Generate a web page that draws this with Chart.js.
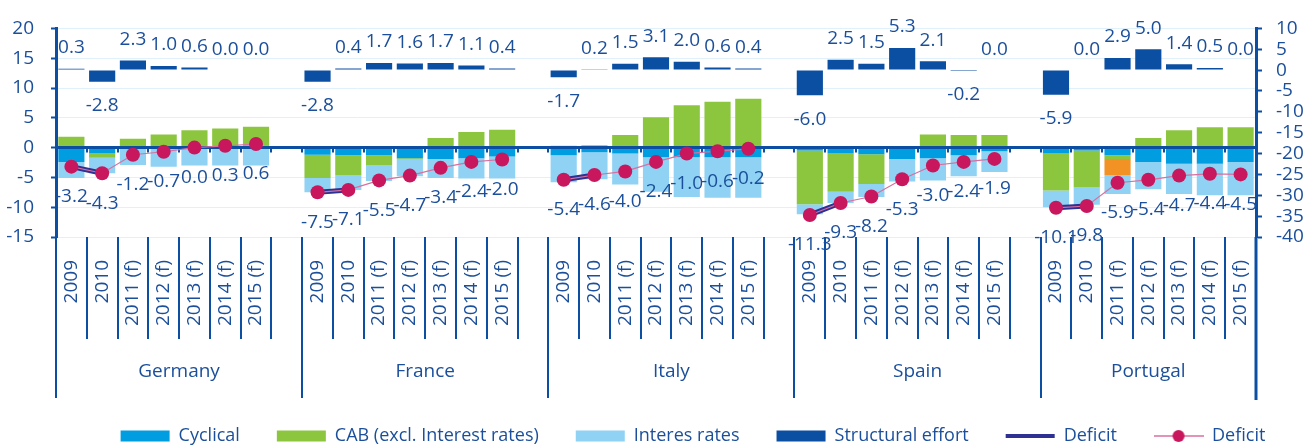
<!DOCTYPE html>
<html>
<head>
<meta charset="utf-8">
<title>Deficit breakdown</title>
<script src="https://cdn.jsdelivr.net/npm/chart.js@4.4.1/dist/chart.umd.min.js"></script>
<style>
  html, body { margin: 0; padding: 0; background: #fff; }
  #wrap { position: relative; width: 1310px; height: 445px; }
</style>
</head>
<body>
<div id="wrap"><canvas id="chart"></canvas></div>
<script>
/* =========================
   DATA
========================= */
const countries = ['Germany', 'France', 'Italy', 'Spain', 'Portugal'];
const years = ['2009', '2010', '2011 (f)', '2012 (f)', '2013 (f)', '2014 (f)', '2015 (f)'];
const leftTicks = [-15, -10, -5, 0, 5, 10, 15, 20];
const rightTicks = [-40, -35, -30, -25, -20, -15, -10, -5, 0, 5, 10];

// one row per country, 2009 .. 2015 (f)
const cyclical = [
  [-2.4, -0.9, 0.0, 0.0, 0.0, 0.0, 0.3],
  [-1.2, -1.3, -1.3, -1.8, -1.9, -1.8, -1.5],
  [-1.3, -0.8, -1.0, -1.6, -1.6, -1.6, -1.6],
  [-0.5, -1.0, -1.1, -1.9, -1.8, -1.3, -0.6],
  [-1.0, -0.5, -1.3, -2.4, -2.7, -2.7, -2.4]
];
const cab = [
  [1.8, -0.8, 1.5, 2.2, 2.9, 3.2, 3.2],
  [-3.9, -3.4, -1.6, -0.1, 1.6, 2.6, 3.0],
  [0.3, 0.4, 2.1, 5.1, 7.1, 7.7, 8.2],
  [-9.0, -6.4, -5.0, 0.0, 2.2, 2.1, 2.1],
  [-6.2, -6.2, -0.6, 1.6, 2.9, 3.4, 3.4]
];
const oneOffs = [
  [null, null, null, null, null, null, null],
  [null, null, null, null, null, null, null],
  [null, null, null, null, null, null, null],
  [null, null, null, null, null, null, null],
  [null, null, -2.7, null, null, null, null]
];
const interest = [
  [-2.7, -2.6, -2.9, -3.2, -3.0, -3.0, -3.0],
  [-2.4, -2.4, -2.7, -2.9, -3.2, -3.4, -3.7],
  [-4.5, -4.5, -5.2, -5.8, -6.7, -6.8, -6.8],
  [-1.7, -1.9, -2.2, -3.8, -3.7, -3.5, -3.5],
  [-2.8, -2.9, -3.2, -4.6, -5.1, -5.3, -5.6]
];
const structural = [
  [0.3, -2.8, 2.3, 1.0, 0.6, 0.0, 0.0],
  [-2.8, 0.4, 1.7, 1.6, 1.7, 1.1, 0.4],
  [-1.7, 0.2, 1.5, 3.1, 2.0, 0.6, 0.4],
  [-6.0, 2.5, 1.5, 5.3, 2.1, -0.2, 0.0],
  [-5.9, 0.0, 2.9, 5.0, 1.4, 0.5, 0.0]
];
const deficit = [
  [-3.2, -4.3, -1.2, -0.7, 0.0, 0.3, 0.6],
  [-7.5, -7.1, -5.5, -4.7, -3.4, -2.4, -2.0],
  [-5.4, -4.6, -4.0, -2.4, -1.0, -0.6, -0.2],
  [-11.3, -9.3, -8.2, -5.3, -3.0, -2.4, -1.9],
  [-10.1, -9.8, -5.9, -5.4, -4.7, -4.4, -4.5]
];

/* =========================
   COLOURS
========================= */
const C = {
  cyc: '#009ee0',
  cab: '#8cc63f',
  int: '#8fd2f4',
  str: '#0b4fa3',
  one: '#f39224',
  navy: '#2e3192',
  pink: '#d86f9f',
  dot: '#c8175d',
  text: '#1b4f9b',
  axis: '#0c4ea2',
  grid: '#e1f1fb'
};

// country rows -> one flat list of slots, with an empty slot between countries
function spread(rows) {
  const out = [];
  rows.forEach((row, g) => {
    row.forEach(v => out.push(v));
    if (g < rows.length - 1) out.push(null);
  });
  return out;
}

const slots = [];
countries.forEach((c, g) => {
  years.forEach(y => slots.push(y));
  if (g < countries.length - 1) slots.push('');
});

// thick deficit line only joins 2009 and 2010
const deficitEarly = deficit.map(row => row.map((v, i) => (i < 2 ? v : null)));

// legend marker: thin line with a dot
function dotLine() {
  const c = document.createElement('canvas');
  c.width = 50; c.height = 14;
  const g = c.getContext('2d');
  g.strokeStyle = C.pink; g.lineWidth = 1.5;
  g.beginPath(); g.moveTo(0, 7); g.lineTo(50, 7); g.stroke();
  g.fillStyle = C.dot;
  g.beginPath(); g.arc(25, 7, 6, 0, Math.PI * 2); g.fill();
  return c;
}
const dotMarker = dotLine();

/* =========================
   EXTRA DRAWING
========================= */
const FONT = '19px "Open Sans"';

const extras = {
  id: 'extras',
  afterLayout(chart) {
    // legend row sits a bit right of centre in the original
    const lg = chart.legend;
    if (!lg) return;
    const h = lg.height;
    lg.left = 76;
    lg.right = chart.width;
    lg.width = lg.right - lg.left;
    lg.top = 390;
    lg.bottom = lg.top + h;
  },
  afterDatasetDraw(chart, args) {
    if (args.index !== 5) return;
    const { ctx, chartArea: a, scales: { x, y } } = chart;
    const y0 = y.getPixelForValue(0);
    const slotW = x.getPixelForValue(1) - x.getPixelForValue(0);
    ctx.save();
    ctx.strokeStyle = C.axis;
    ctx.lineWidth = 3;
    ctx.beginPath(); ctx.moveTo(a.left, y0); ctx.lineTo(a.right, y0); ctx.stroke();
    ctx.lineWidth = 2;
    for (let k = 1; k < slots.length; k++) {
      const px = Math.round(x.getPixelForValue(0) - slotW / 2 + k * slotW);
      ctx.beginPath(); ctx.moveTo(px, y0); ctx.lineTo(px, y0 + 5); ctx.stroke();
    }
    ctx.restore();
  },
  afterDraw(chart) {
    const { ctx, chartArea: a, scales: { x, y, y2 } } = chart;
    const slotW = x.getPixelForValue(1) - x.getPixelForValue(0);
    const edge = k => x.getPixelForValue(0) - slotW / 2 + k * slotW;
    const vline = (px, y1, y2p, w) => {
      ctx.lineWidth = w;
      ctx.beginPath(); ctx.moveTo(Math.round(px), y1); ctx.lineTo(Math.round(px), y2p); ctx.stroke();
    };

    ctx.save();
    ctx.strokeStyle = C.axis;

    // year separators
    countries.forEach((c, g) => {
      for (let j = 1; j <= years.length; j++) {
        const k = g * (years.length + 1) + j;
        if (k >= slots.length) continue;
        vline(edge(k), a.bottom, a.bottom + 102, 2);
      }
    });
    // country separators
    for (let g = 1; g < countries.length; g++) {
      vline(edge(g * (years.length + 1)), a.bottom, a.bottom + 161, 2);
    }
    vline(a.left, a.bottom, a.bottom + 161, 2);
    vline(a.right, a.bottom, a.bottom + 163, 3);

    // year labels, vertical
    ctx.fillStyle = C.text;
    ctx.font = FONT;
    ctx.textAlign = 'right';
    ctx.textBaseline = 'middle';
    slots.forEach((lab, i) => {
      if (!lab) return;
      ctx.save();
      ctx.translate(x.getPixelForValue(i), a.bottom + 23);
      ctx.rotate(-Math.PI / 2);
      ctx.fillText(lab, 0, 0);
      ctx.restore();
    });

    // country labels
    ctx.textAlign = 'center';
    countries.forEach((c, g) => {
      const s = g * (years.length + 1);
      const e = s + years.length + (g < countries.length - 1 ? 1 : 0);
      ctx.fillText(c, (edge(s) + edge(e)) / 2, a.bottom + 135);
    });

    // value labels
    spread(structural).forEach((v, i) => {
      if (v === null) return;
      const py = y2.getPixelForValue(v);
      ctx.fillText(v.toFixed(1), x.getPixelForValue(i), v >= 0 ? py - 21 : py + 24);
    });
    spread(deficit).forEach((v, i) => {
      if (v === null) return;
      ctx.fillText(v.toFixed(1), x.getPixelForValue(i), y.getPixelForValue(v) + 30);
    });

    ctx.restore();
  }
};

/* =========================
   CHART
========================= */
Chart.defaults.font.family = '"Open Sans", sans-serif';
Chart.defaults.color = C.text;

const barBase = { borderWidth: 0, order: 3, yAxisID: 'y', barPercentage: 0.85, categoryPercentage: 1.0 };

new Chart(document.getElementById('chart'), {
  type: 'bar',
  data: {
    labels: slots,
    datasets: [
      { ...barBase, label: 'Cyclical', data: spread(cyclical), backgroundColor: C.cyc },
      { ...barBase, label: 'CAB (excl. Interest rates)', data: spread(cab), backgroundColor: C.cab },
      { ...barBase, label: 'One-offs', data: spread(oneOffs), backgroundColor: C.one },
      { ...barBase, label: 'Interes rates', data: spread(interest), backgroundColor: C.int },
      { ...barBase, label: 'Structural effort', data: spread(structural), backgroundColor: C.str, yAxisID: 'y2' },
      {
        type: 'line', label: 'Deficit', data: spread(deficitEarly), yAxisID: 'y', stack: 'defA', order: 2,
        borderColor: C.navy, borderWidth: 5, pointRadius: 0, spanGaps: false, fill: false
      },
      {
        type: 'line', label: 'Deficit', data: spread(deficit), yAxisID: 'y', stack: 'defB', order: 1,
        borderColor: C.pink, borderWidth: 1.2, pointRadius: 7, pointBackgroundColor: C.dot,
        pointBorderWidth: 0, spanGaps: false, fill: false
      }
    ]
  },
  options: {
    responsive: true,
    maintainAspectRatio: false,
    animation: false,
    events: [],
    layout: { padding: { top: 20, left: 0, right: 0, bottom: 0 } },
    scales: {
      x: {
        type: 'category',
        offset: true,
        stacked: true,
        grid: { display: false },
        border: { display: false },
        ticks: { display: false },
        afterFit: s => { s.height = 143; }
      },
      y: {
        position: 'left',
        stacked: true,
        min: leftTicks[0],
        max: leftTicks[leftTicks.length - 1],
        afterBuildTicks: s => { s.ticks = leftTicks.map(v => ({ value: v })); },
        ticks: { color: C.text, font: { size: 19 }, padding: 17, autoSkip: false },
        grid: {
          color: c => (c.tick && c.tick.value === 0 ? 'rgba(0,0,0,0)' : C.grid),
          lineWidth: 1,
          tickColor: C.axis,
          tickLength: 5,
          tickWidth: 2
        },
        border: { color: C.axis, width: 3 },
        afterFit: s => { s.width = 56; }
      },
      y2: {
        position: 'right',
        stacked: false,
        min: rightTicks[0],
        max: rightTicks[rightTicks.length - 1],
        afterBuildTicks: s => { s.ticks = rightTicks.map(v => ({ value: v })); },
        ticks: { color: C.text, font: { size: 19 }, padding: 14, autoSkip: false },
        grid: { drawOnChartArea: false, tickColor: C.axis, tickLength: 6, tickWidth: 2 },
        border: { color: C.axis, width: 3 },
        afterFit: s => { s.width = 54; }
      }
    },
    plugins: {
      tooltip: { enabled: false },
      legend: {
        position: 'bottom',
        labels: {
          usePointStyle: true,
          pointStyleWidth: 49,
          boxHeight: 11,
          padding: 37,
          color: C.text,
          font: { size: 18 },
          generateLabels: () => [
            { text: 'Cyclical', fillStyle: C.cyc, strokeStyle: C.cyc, lineWidth: 0, pointStyle: 'rect', fontColor: C.text, hidden: false },
            { text: 'CAB (excl. Interest rates)', fillStyle: C.cab, strokeStyle: C.cab, lineWidth: 0, pointStyle: 'rect', fontColor: C.text, hidden: false },
            { text: 'Interes rates', fillStyle: C.int, strokeStyle: C.int, lineWidth: 0, pointStyle: 'rect', fontColor: C.text, hidden: false },
            { text: 'Structural effort', fillStyle: C.str, strokeStyle: C.str, lineWidth: 0, pointStyle: 'rect', fontColor: C.text, hidden: false },
            { text: 'Deficit', fillStyle: C.navy, strokeStyle: C.navy, lineWidth: 4, pointStyle: 'line', fontColor: C.text, hidden: false },
            { text: 'Deficit', fillStyle: C.dot, strokeStyle: C.pink, lineWidth: 0, pointStyle: dotMarker, fontColor: C.text, hidden: false }
          ]
        }
      }
    }
  },
  plugins: [extras]
});
</script>
</body>
</html>
